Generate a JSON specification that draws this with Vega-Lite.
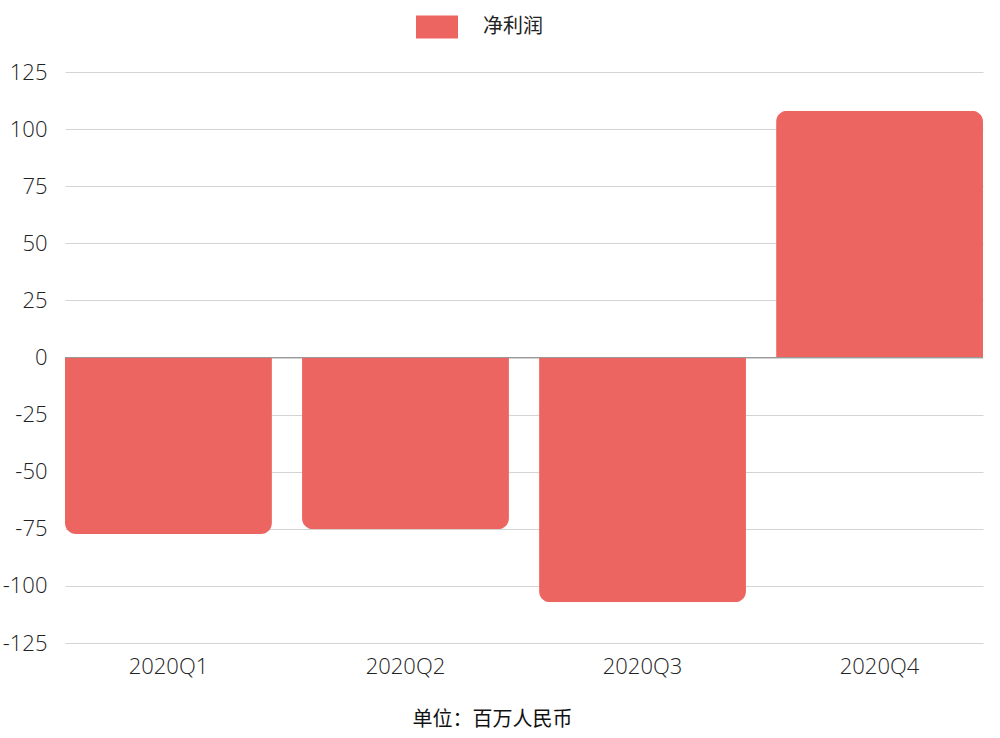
{
  "$schema": "https://vega.github.io/schema/vega-lite/v6.json",
  "width": 918,
  "height": 571,
  "autosize": {"type": "none"},
  "padding": {"left": 65, "top": 72, "right": 17, "bottom": 95},
  "background": "white",
  "config": {
    "view": {"stroke": null},
    "font": "Open Sans",
    "axis": {"labelFont": "Open Sans", "labelFontSize": 22, "labelColor": "#222222", "labelFontWeight": 300}
  },
  "data": {
    "values": [
      {"quarter": "2020Q1", "series": "净利润", "value": -77.3},
      {"quarter": "2020Q2", "series": "净利润", "value": -75.2},
      {"quarter": "2020Q3", "series": "净利润", "value": -107.2},
      {"quarter": "2020Q4", "series": "净利润", "value": 108}
    ]
  },
  "encoding": {
    "x": {
      "field": "quarter", "type": "nominal",
      "scale": {"paddingInner": 0.127, "paddingOuter": 0},
      "axis": {
        "title": "单位：百万人民币",
        "titleFont": "Noto Sans CJK SC",
        "titleFontSize": 20,
        "titleFontWeight": 400,
        "titleColor": "#111111",
        "titleX": 427,
        "titleY": 66,
        "labelAngle": 0,
        "labelPadding": 13,
        "ticks": false,
        "domain": false
      }
    },
    "y": {
      "field": "value", "type": "quantitative",
      "scale": {"domain": [-125, 125], "nice": false},
      "axis": {
        "title": null,
        "values": [-125, -100, -75, -50, -25, 0, 25, 50, 75, 100, 125],
        "labelExpr": "replace(datum.label, '−', '-')",
        "grid": true,
        "gridColor": "#d4d4d4",
        "gridWidth": 1,
        "ticks": false,
        "domain": false,
        "labelPadding": 18
      }
    },
    "color": {
      "field": "series", "type": "nominal",
      "scale": {"range": ["#ed6560"]},
      "legend": {
        "title": null,
        "orient": "none",
        "legendX": 351,
        "legendY": -66,
        "symbolType": "M-1,-0.55H1V0.55H-1Z",
        "symbolSize": 1764,
        "symbolStrokeWidth": 0,
        "labelFont": "Noto Sans CJK SC",
        "labelFontSize": 20,
        "labelColor": "#222222",
        "labelOffset": 25
      }
    }
  },
  "layer": [
    {
      "transform": [{"filter": "datum.value < 0"}],
      "mark": {"type": "bar", "cornerRadiusBottomLeft": 11, "cornerRadiusBottomRight": 11}
    },
    {
      "transform": [{"filter": "datum.value >= 0"}],
      "mark": {"type": "bar", "cornerRadiusTopLeft": 11, "cornerRadiusTopRight": 11}
    },
    {
      "data": {"values": [{"zero": 0}]},
      "mark": {"type": "rule", "color": "#999999", "strokeWidth": 1},
      "encoding": {"x": null, "color": null, "y": {"field": "zero", "type": "quantitative"}}
    }
  ]
}
